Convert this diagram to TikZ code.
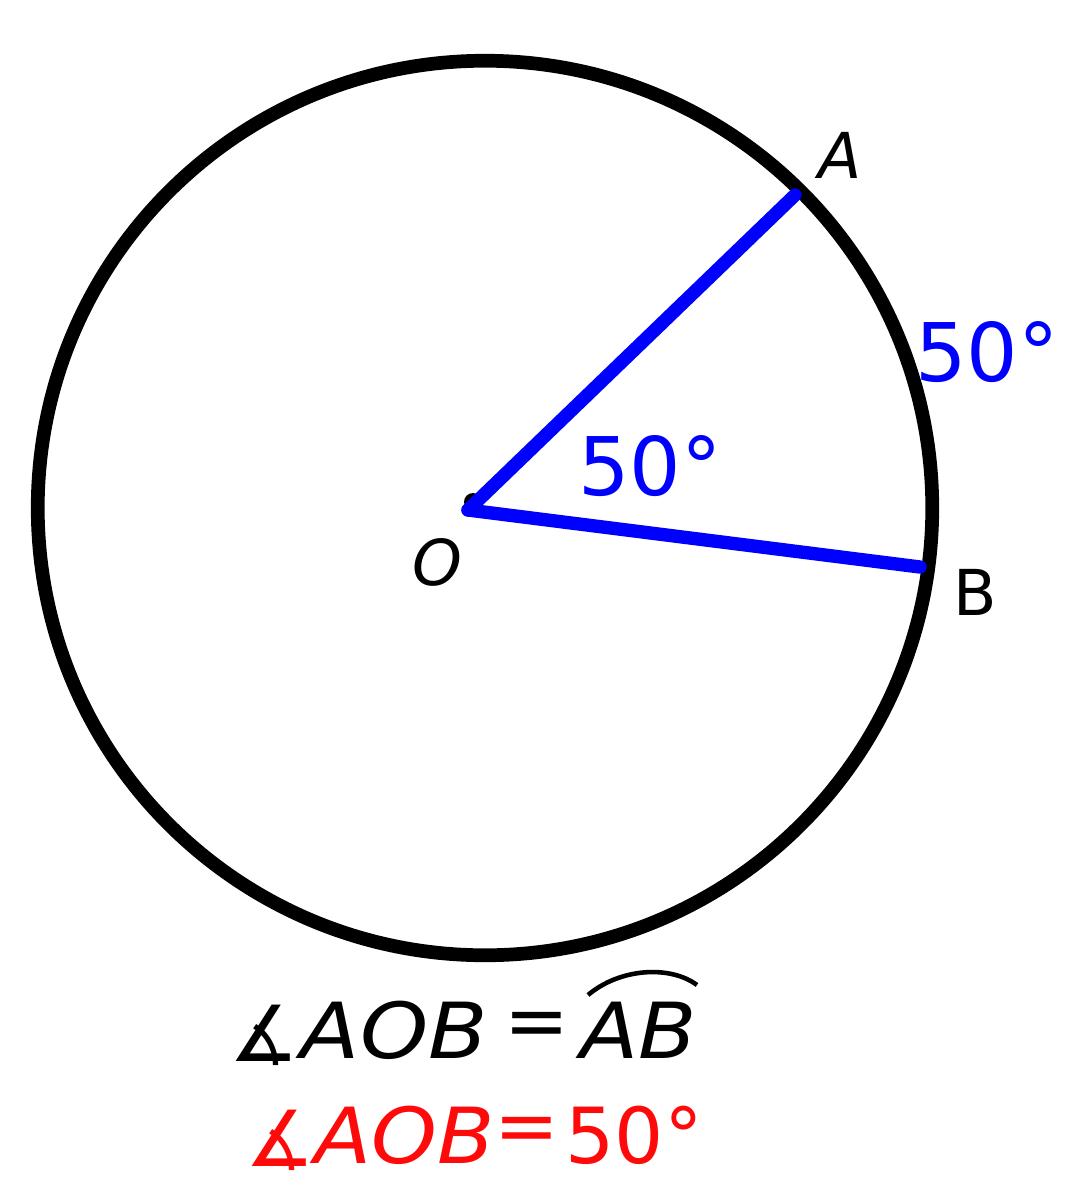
\documentclass[tikz,border=0pt]{standalone}
\usepackage{fontspec}
\setmainfont{DejaVu Sans}
\definecolor{myblue}{RGB}{0,0,255}
\definecolor{myred}{RGB}{255,10,10}
\tikzset{
  lab/.style={inner sep=0pt, font=\fontsize{18}{20}\selectfont},
  deg/.style={inner sep=0pt, text=myblue, font=\fontsize{23}{26}\selectfont},
  eq/.style={inner sep=0pt, font=\fontsize{22}{26}\selectfont},
  radius line/.style={myblue, line width=3.8pt, line cap=round},
}
\begin{document}
\begin{tikzpicture}[x=0.01cm,y=-0.01cm]
\useasboundingbox (0,0) rectangle (1065,1200);
\coordinate (C) at (485,508);
\coordinate (O) at (468,510);
\coordinate (A) at (795,195);
\coordinate (B) at (920,567);
\draw[line width=3.9pt] (C) circle [radius=4.47cm];
\fill (473,502) circle [radius=0.09cm];
\draw[radius line] (O) -- (A);
\draw[radius line] (O) -- (B);
\node[lab] (lA) at (840,155) {\itshape A};
\node[lab] (lO) at (437,562) {\itshape O};
\node[lab] (lB) at (975,592) {B};
\node[deg] (d1) at (987,352) {50°};
\node[deg] (d2) at (650,466) {50°};
% equations
\node[eq] (ang1) at (264,1035) {∡};
\node[eq, anchor=west, xscale=1.12] (aob1) at (300,1030) {\itshape AOB};
\node[eq] (eq1) at (537,1030) {=};
\node[eq, anchor=west, xscale=1.1] (ab1) at (580,1030) {\itshape AB};
\draw[line width=1.3pt] (588,995) .. controls (620,968) and (670,965) .. (697,985);
\node[eq, text=myred] (ang2) at (280,1140) {∡};
\node[eq, text=myred, anchor=west, xscale=1.08] (aob2) at (314,1135) {\itshape AOB};
\node[eq, text=myred] (eq2) at (527,1135) {=};
\node[eq, text=myred, anchor=west] (v2) at (565,1135) {50\textit{°}};
\end{tikzpicture}
\end{document}
